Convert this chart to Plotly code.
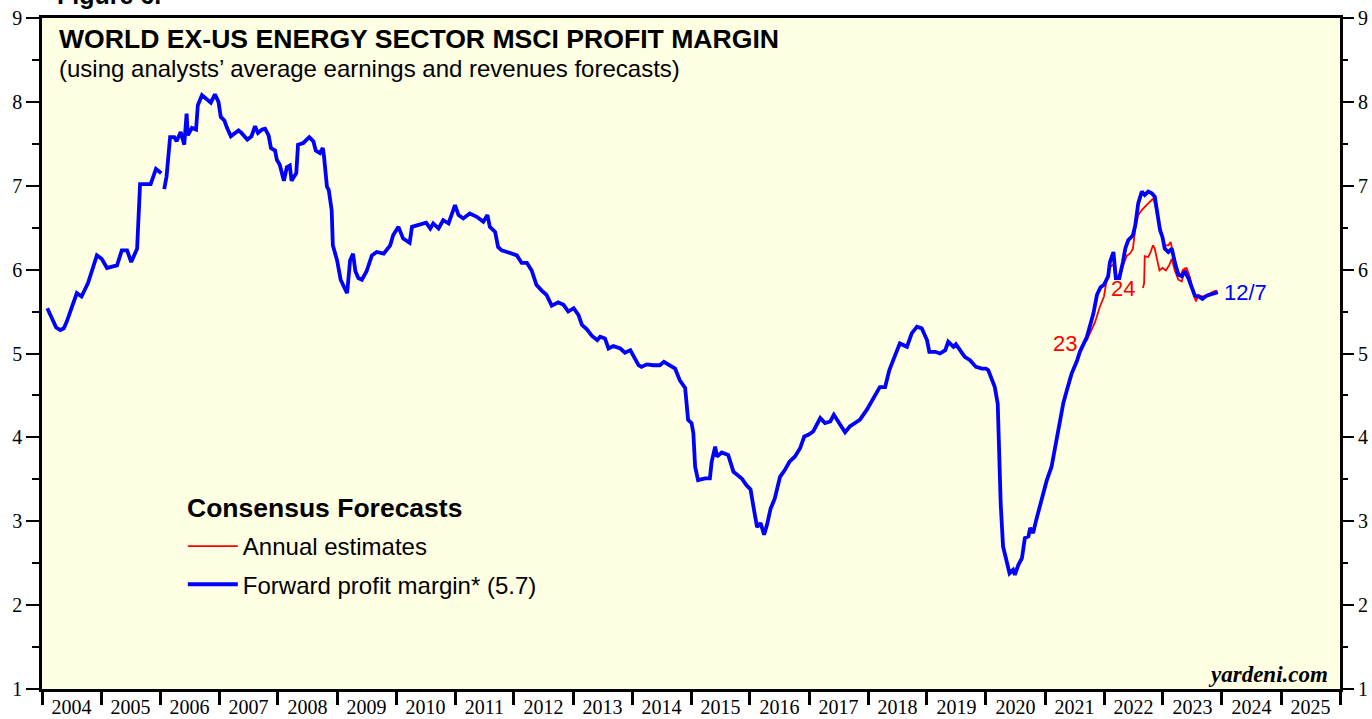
import pandas as pd
import plotly.graph_objects as go

# ---------------- data ----------------
# Forward profit margin (decimal years); None marks the gap in early 2006
fwd_year = [
    2004.09, 2004.16, 2004.24, 2004.31, 2004.37, 2004.42, 2004.50, 2004.59, 2004.67, 2004.78,
    2004.93, 2005.01, 2005.10, 2005.27, 2005.35, 2005.44, 2005.51, 2005.61, 2005.66, 2005.84,
    2005.93, 2006.02, None, 2006.07, 2006.11, 2006.17, 2006.24, 2006.28, 2006.35, 2006.41,
    2006.45, 2006.47, 2006.54, 2006.61, 2006.64, 2006.71, 2006.79, 2006.86, 2006.93, 2006.99,
    2007.03, 2007.09, 2007.13, 2007.20, 2007.33, 2007.38, 2007.48, 2007.55, 2007.61, 2007.66,
    2007.73, 2007.78, 2007.84, 2007.88, 2007.95, 2007.98, 2008.03, 2008.10, 2008.15, 2008.20,
    2008.23, 2008.31, 2008.34, 2008.43, 2008.53, 2008.60, 2008.64, 2008.71, 2008.76, 2008.78,
    2008.83, 2008.86, 2008.91, 2008.93, 2009.00, 2009.06, 2009.12, 2009.17, 2009.22, 2009.27,
    2009.31, 2009.36, 2009.42, 2009.50, 2009.59, 2009.67, 2009.79, 2009.90, 2009.95, 2010.04,
    2010.12, 2010.23, 2010.27, 2010.35, 2010.44, 2010.51, 2010.58, 2010.63, 2010.72, 2010.80,
    2010.89, 2011.00, 2011.06, 2011.14, 2011.25, 2011.37, 2011.48, 2011.55, 2011.59, 2011.68,
    2011.73, 2011.79, 2011.88, 2011.96, 2012.05, 2012.13, 2012.22, 2012.30, 2012.38, 2012.47,
    2012.55, 2012.64, 2012.75, 2012.84, 2012.92, 2013.01, 2013.09, 2013.15, 2013.23, 2013.32,
    2013.41, 2013.46, 2013.54, 2013.60, 2013.68, 2013.80, 2013.88, 2013.97, 2014.02, 2014.11,
    2014.16, 2014.25, 2014.36, 2014.47, 2014.54, 2014.64, 2014.73, 2014.81, 2014.90, 2014.95,
    2015.01, 2015.04, 2015.07, 2015.12, 2015.24, 2015.32, 2015.35, 2015.41, 2015.44, 2015.52,
    2015.63, 2015.72, 2015.86, 2015.94, 2016.01, 2016.06, 2016.12, 2016.18, 2016.24, 2016.29,
    2016.35, 2016.42, 2016.51, 2016.59, 2016.67, 2016.76, 2016.85, 2016.92, 2016.99, 2017.07,
    2017.19, 2017.27, 2017.36, 2017.42, 2017.53, 2017.61, 2017.69, 2017.86, 2017.98, 2018.09,
    2018.20, 2018.29, 2018.36, 2018.46, 2018.54, 2018.66, 2018.74, 2018.83, 2018.91, 2019.00,
    2019.04, 2019.14, 2019.22, 2019.31, 2019.36, 2019.45, 2019.49, 2019.56, 2019.64, 2019.73,
    2019.83, 2019.93, 2020.00, 2020.04, 2020.10, 2020.15, 2020.20, 2020.23, 2020.25, 2020.29,
    2020.36, 2020.40, 2020.46, 2020.49, 2020.55, 2020.61, 2020.66, 2020.72, 2020.75, 2020.80,
    2020.85, 2020.92, 2020.97, 2021.03, 2021.11, 2021.17, 2021.25, 2021.31, 2021.38, 2021.45,
    2021.54, 2021.59, 2021.71, 2021.76, 2021.82, 2021.88, 2021.94, 2022.00, 2022.07, 2022.10,
    2022.16, 2022.20, 2022.26, 2022.32, 2022.36, 2022.41, 2022.49, 2022.53, 2022.58, 2022.64,
    2022.69, 2022.75, 2022.81, 2022.86, 2022.89, 2022.95, 2022.99, 2023.03, 2023.09, 2023.15,
    2023.20, 2023.26, 2023.32, 2023.37, 2023.43, 2023.49, 2023.54, 2023.60, 2023.67, 2023.74,
    2023.83, 2023.93,
]
fwd_margin = [
    5.54, 5.42, 5.31, 5.28, 5.30, 5.38, 5.55, 5.72, 5.68, 5.84,
    6.17, 6.13, 6.02, 6.05, 6.23, 6.23, 6.09, 6.25, 7.02, 7.02,
    7.20, 7.15, None, 6.96, 7.11, 7.58, 7.58, 7.53, 7.64, 7.49,
    7.86, 7.60, 7.69, 7.67, 7.96, 8.08, 8.03, 7.99, 8.09, 8.00,
    7.82, 7.78, 7.70, 7.59, 7.66, 7.63, 7.55, 7.59, 7.71, 7.63,
    7.67, 7.68, 7.60, 7.45, 7.42, 7.31, 7.25, 7.06, 7.22, 7.24,
    7.06, 7.15, 7.49, 7.51, 7.58, 7.53, 7.42, 7.39, 7.45, 7.35,
    6.99, 6.95, 6.71, 6.29, 6.11, 5.88, 5.79, 5.72, 6.11, 6.19,
    5.98, 5.90, 5.88, 5.98, 6.17, 6.21, 6.19, 6.29, 6.41, 6.51,
    6.37, 6.32, 6.51, 6.53, 6.55, 6.56, 6.49, 6.55, 6.49, 6.59,
    6.55, 6.77, 6.65, 6.61, 6.67, 6.63, 6.57, 6.65, 6.51, 6.45,
    6.27, 6.23, 6.21, 6.19, 6.17, 6.08, 6.08, 5.99, 5.82, 5.75,
    5.70, 5.57, 5.61, 5.58, 5.50, 5.54, 5.46, 5.34, 5.29, 5.21,
    5.16, 5.20, 5.18, 5.06, 5.09, 5.06, 5.01, 5.04, 4.98, 4.86,
    4.84, 4.87, 4.86, 4.86, 4.90, 4.86, 4.82, 4.68, 4.59, 4.21,
    4.17, 4.05, 3.65, 3.49, 3.51, 3.51, 3.71, 3.89, 3.77, 3.82,
    3.79, 3.59, 3.51, 3.43, 3.38, 3.17, 2.93, 2.98, 2.84, 2.96,
    3.15, 3.27, 3.53, 3.61, 3.71, 3.77, 3.87, 4.01, 4.03, 4.07,
    4.23, 4.17, 4.19, 4.27, 4.15, 4.06, 4.13, 4.21, 4.33, 4.47,
    4.60, 4.60, 4.80, 4.98, 5.12, 5.08, 5.24, 5.32, 5.30, 5.16,
    5.02, 5.02, 5.00, 5.04, 5.14, 5.08, 5.11, 5.04, 4.96, 4.92,
    4.84, 4.82, 4.82, 4.80, 4.70, 4.60, 4.40, 3.61, 3.21, 2.70,
    2.50, 2.38, 2.42, 2.36, 2.48, 2.56, 2.80, 2.82, 2.92, 2.86,
    3.01, 3.21, 3.31, 3.49, 3.65, 3.87, 4.13, 4.41, 4.59, 4.76,
    4.91, 5.02, 5.20, 5.32, 5.48, 5.70, 5.79, 5.82, 5.92, 6.09,
    6.21, 5.90, 5.90, 6.09, 6.25, 6.35, 6.41, 6.53, 6.79, 6.93,
    6.89, 6.93, 6.91, 6.87, 6.75, 6.47, 6.39, 6.25, 6.21, 6.25,
    6.09, 5.94, 5.92, 5.98, 5.90, 5.80, 5.69, 5.68, 5.65, 5.69,
    5.71, 5.73,
]

# Annual estimates: 2023
est23_year = [
    2021.65, 2021.71, 2021.76, 2021.85, 2021.93, 2022.00, 2022.05, 2022.10, 2022.16, 2022.20,
    2022.27, 2022.33, 2022.39, 2022.44, 2022.49, 2022.53, 2022.58, 2022.64, 2022.69, 2022.75,
    2022.81, 2022.84, 2022.86, 2022.92, 2022.98, 2023.03, 2023.09, 2023.13, 2023.18, 2023.23,
    2023.29, 2023.34, 2023.40, 2023.46, 2023.51, 2023.56, 2023.60, 2023.66, 2023.74, 2023.83,
    2023.91,
]
est23_margin = [
    5.12, 5.16, 5.24, 5.38, 5.56, 5.68, 5.90, 6.03, 6.06, 5.88,
    5.96, 6.06, 6.17, 6.19, 6.25, 6.49, 6.65, 6.71, 6.75, 6.79,
    6.83, 6.85, 6.79, 6.59, 6.41, 6.29, 6.29, 6.33, 6.17, 6.03,
    5.92, 6.00, 6.02, 5.90, 5.74, 5.62, 5.70, 5.68, 5.69, 5.73,
    5.75,
]
# Annual estimates: 2024
est24_year = [
    2022.66, 2022.68, 2022.69, 2022.75, 2022.79, 2022.83, 2022.86, 2022.90, 2022.94, 2022.99,
    2023.05, 2023.11, 2023.15, 2023.20, 2023.26, 2023.32, 2023.37, 2023.43, 2023.49, 2023.54,
    2023.60, 2023.67, 2023.79, 2023.87, 2023.92,
]
est24_margin = [
    5.78, 5.84, 6.16, 6.15, 6.21, 6.29, 6.25, 6.11, 5.99, 6.02,
    5.99, 6.06, 6.13, 5.99, 5.88, 5.86, 6.02, 5.96, 5.78, 5.66,
    5.68, 5.66, 5.70, 5.74, 5.75,
]

y_ticks = [1, 2, 3, 4, 5, 6, 7, 8, 9]
current_fwd = 5.7
last_date_label = "12/7"


def to_date(y):
    if y is None:
        return None
    yr = int(y)
    return pd.Timestamp(year=yr, month=1, day=1) + pd.Timedelta(days=(y - yr) * 365.25)


fwd_x = [to_date(v) for v in fwd_year]
e23_x = [to_date(v) for v in est23_year]
e24_x = [to_date(v) for v in est24_year]

RED = "#FF0000"
BLUE = "#0000FF"
SERIF = "Liberation Serif, Times New Roman, serif"
SANS = "Liberation Sans, Arial, sans-serif"

fig = go.Figure()
fig.add_trace(go.Scatter(
    x=e23_x, y=est23_margin, mode="lines", name="Annual estimates",
    line=dict(color=RED, width=1.8), legendgroup="a", legendrank=1, hoverinfo="skip"))
fig.add_trace(go.Scatter(
    x=e24_x, y=est24_margin, mode="lines", name="Annual estimates 2024",
    line=dict(color=RED, width=1.8), showlegend=False, legendgroup="a2", hoverinfo="skip"))
fig.add_trace(go.Scatter(
    x=fwd_x, y=fwd_margin, mode="lines",
    name=f"Forward profit margin* ({current_fwd})",
    line=dict(color=BLUE, width=3.8), connectgaps=False, legendgroup="b", legendrank=2,
    hoverinfo="skip"))
# empty trace so the right-hand axis is created
fig.add_trace(go.Scatter(x=[], y=[], yaxis="y2", showlegend=False, hoverinfo="skip"))

axis_line = dict(showline=True, linecolor="black", linewidth=2.5, mirror=True,
                 showgrid=False, zeroline=False, automargin=False)

fig.update_layout(
    width=1372, height=719, autosize=False,
    margin=dict(l=42, r=32, t=18, b=30, pad=0),
    paper_bgcolor="white", plot_bgcolor="#FFFFE4",
    showlegend=True,
    legend=dict(
        x=0.1085, y=0.2460, xanchor="left", yanchor="top",
        bgcolor="rgba(0,0,0,0)", borderwidth=0,
        font=dict(family=SANS, size=24, color="black"),
        itemwidth=50, tracegroupgap=4, traceorder="grouped",
    ),
    xaxis=dict(
        type="date", range=["2004-01-01", "2026-01-01"],
        tick0="2004-01-01", dtick="M12", tickformat="%Y", ticklabelmode="period",
        ticks="outside", ticklen=13, tickwidth=2.5, tickcolor="black",
        ticklabelstandoff=-15,
        tickfont=dict(family=SERIF, size=20, color="black"),
        **axis_line,
    ),
    yaxis=dict(
        range=[1, 9], tickvals=y_ticks, ticktext=[str(v) for v in y_ticks],
        ticks="outside", ticklen=13, tickwidth=1.5, tickcolor="black",
        minor=dict(dtick=0.5, tick0=1, ticks="outside", ticklen=7, tickwidth=1.5, tickcolor="black"),
        tickfont=dict(family=SERIF, size=20, color="black"),
        **axis_line,
    ),
    yaxis2=dict(
        range=[1, 9], overlaying="y", side="right", tickvals=y_ticks,
        ticktext=[str(v) for v in y_ticks],
        ticks="outside", ticklen=13, tickwidth=1.5, tickcolor="black",
        minor=dict(dtick=0.5, tick0=1, ticks="outside", ticklen=7, tickwidth=1.5, tickcolor="black"),
        tickfont=dict(family=SERIF, size=20, color="black"),
        showgrid=False, zeroline=False, showline=False, automargin=False,
    ),
)

ann = []
ann.append(dict(text="<b>Figure 6.</b>", xref="paper", yref="paper", x=0.010, y=1.011,
                xanchor="left", yanchor="bottom", showarrow=False,
                font=dict(family=SANS, size=25, color="black")))
ann.append(dict(text="<b>WORLD EX-US ENERGY SECTOR MSCI PROFIT MARGIN</b>", xref="paper", yref="paper",
                x=0.0115, y=0.969, xanchor="left", yanchor="middle", showarrow=False,
                font=dict(family=SANS, size=26.6, color="black")))
ann.append(dict(text="(using analysts\u2019 average earnings and revenues forecasts)", xref="paper",
                yref="paper", x=0.0115, y=0.924, xanchor="left", yanchor="middle", showarrow=False,
                font=dict(family=SANS, size=24, color="black")))
ann.append(dict(text="<b>Consensus Forecasts</b>", xref="paper", yref="paper", x=0.1105, y=0.2697,
                xanchor="left", yanchor="middle", showarrow=False,
                font=dict(family=SANS, size=26.5, color="black")))
ann.append(dict(text="<b><i>yardeni.com</i></b>", xref="paper", yref="paper", x=0.9925, y=0.021,
                xanchor="right", yanchor="middle", showarrow=False,
                font=dict(family=SERIF, size=23, color="black")))
ann.append(dict(text="23", x=e23_x[0], y=est23_margin[0], xanchor="right", yanchor="middle",
                xshift=-4, showarrow=False, font=dict(family=SANS, size=22, color=RED)))
ann.append(dict(text="24", x=e24_x[0], y=est24_margin[0], xanchor="right", yanchor="middle",
                xshift=-6, showarrow=False, font=dict(family=SANS, size=22, color=RED)))
ann.append(dict(text=last_date_label, x=fwd_x[-1], y=fwd_margin[-1], xanchor="left", yanchor="middle",
                xshift=4, showarrow=False, font=dict(family=SANS, size=22, color=BLUE)))
fig.update_layout(annotations=ann)

fig.write_html("out.html", config={"displayModeBar": False},
               post_script="document.body.style.margin='0';document.body.style.overflow='hidden';")
